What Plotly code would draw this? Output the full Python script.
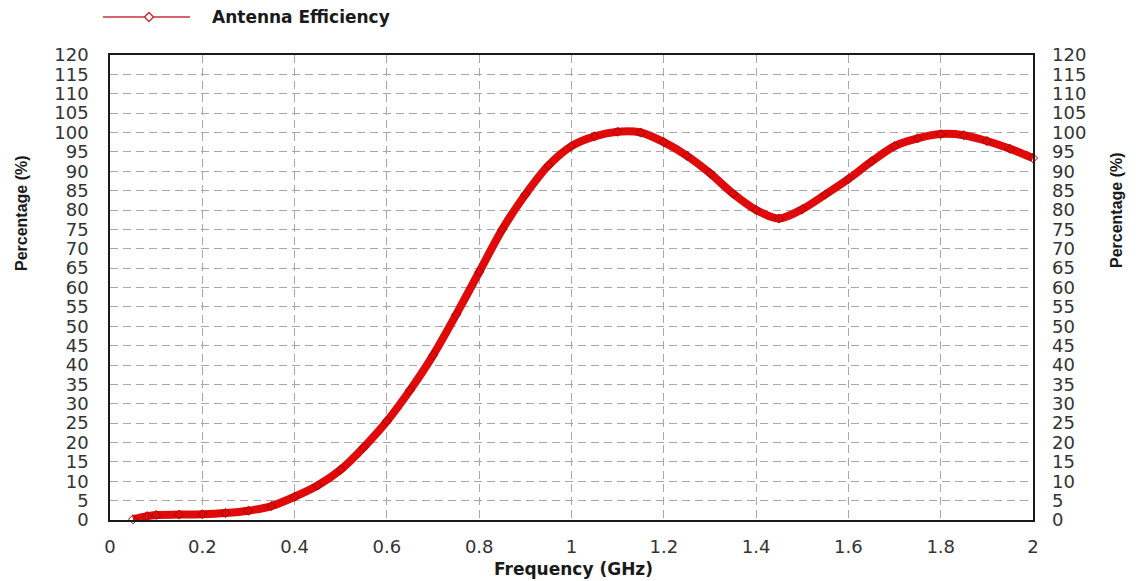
import plotly.graph_objects as go

# Data
freq_ghz = [0.05, 0.08, 0.1, 0.15, 0.2, 0.25, 0.3, 0.35, 0.4, 0.45, 0.5, 0.55, 0.6, 0.65,
            0.7, 0.75, 0.8, 0.85, 0.9, 0.95, 1.0, 1.05, 1.1, 1.15, 1.2, 1.25, 1.3, 1.35,
            1.4, 1.45, 1.5, 1.55, 1.6, 1.65, 1.7, 1.75, 1.8, 1.85, 1.9, 1.95, 2.0]
efficiency = [0.2, 1.0, 1.3, 1.4, 1.5, 1.8, 2.4, 3.6, 6.0, 8.9, 13.0, 18.8, 25.5, 33.5,
              42.5, 53.0, 64.0, 75.0, 84.0, 91.5, 96.5, 99.0, 100.2, 100.0, 97.5, 94.0, 89.5, 84.2,
              80.0, 77.8, 80.2, 84.0, 88.0, 92.5, 96.5, 98.5, 99.6, 99.3, 97.8, 95.8, 93.4]
series_name = "Antenna Efficiency"
x_ticks = [0, 0.2, 0.4, 0.6, 0.8, 1, 1.2, 1.4, 1.6, 1.8, 2]
x_tick_text = ["0", "0.2", "0.4", "0.6", "0.8", "1", "1.2", "1.4", "1.6", "1.8", "2"]
y_ticks = list(range(0, 121, 5))

W, H = 1140, 581
L, R, T, B = 110, 107, 55, 61
pw = W - L - R
ph = H - T - B

wide_font = "DejaVu Sans, Verdana, sans-serif"
tick_font = dict(family=wide_font, size=18, color="#333333")

fig = go.Figure()
fig.add_trace(go.Scatter(
    x=freq_ghz, y=efficiency, mode="lines+markers", name=series_name,
    line=dict(color="#e10a0a", width=8, shape="spline", smoothing=0.8),
    marker=dict(symbol="diamond-open", size=7, color="#a00000", line=dict(width=1)),
    showlegend=False, cliponaxis=False,
))
# Same series attached to the right axis (invisible) so the right scale renders
fig.add_trace(go.Scatter(
    x=freq_ghz, y=efficiency, yaxis="y2", mode="lines",
    line=dict(width=0, color="rgba(0,0,0,0)"), hoverinfo="skip", showlegend=False,
))

axis_common = dict(showline=True, linecolor="#1a1a1a", linewidth=1.5, mirror=True,
                   zeroline=False, ticks="", tickfont=tick_font)

fig.update_layout(
    width=W, height=H,
    margin=dict(l=L, r=R, t=T, b=B, pad=0),
    paper_bgcolor="white", plot_bgcolor="white",
    showlegend=False,
    xaxis=dict(range=[0, 2], tickvals=x_ticks, ticktext=x_tick_text,
               showgrid=True, gridcolor="#a8a8a8", griddash="8px,5px", gridwidth=1,
               ticklabelstandoff=10, **axis_common),
    yaxis=dict(range=[0, 120], tickvals=y_ticks,
               showgrid=True, gridcolor="#a8a8a8", griddash="8px,5px", gridwidth=1,
               ticklabelstandoff=16, **axis_common),
    yaxis2=dict(range=[0, 120], tickvals=y_ticks, overlaying="y", side="right",
                showgrid=False, showline=False, zeroline=False, ticks="",
                tickfont=tick_font, ticklabelstandoff=18),
)

def px_x(p):
    return (p - L) / pw

def px_y(p):
    return 1 - (p - T) / ph

# Axis titles
vtitle_font = dict(family="Arial, Liberation Sans, sans-serif", size=16, color="#1a1a1a")
htitle_font = dict(family=wide_font, size=17, color="#1a1a1a")
fig.add_annotation(text="<b>Percentage (%)</b>", xref="paper", yref="paper",
                   x=px_x(21), y=px_y(213), showarrow=False, textangle=-90,
                   font=vtitle_font, xanchor="center", yanchor="middle")
fig.add_annotation(text="<b>Percentage (%)</b>", xref="paper", yref="paper",
                   x=px_x(1117), y=px_y(210), showarrow=False, textangle=-90,
                   font=vtitle_font, xanchor="center", yanchor="middle")
fig.add_annotation(text="<b>Frequency (GHz)</b>", xref="paper", yref="paper",
                   x=px_x(573), y=px_y(569), showarrow=False,
                   font=htitle_font, xanchor="center", yanchor="middle")

# Legend (drawn manually to match the long sample line)
fig.add_shape(type="line", xref="paper", yref="paper",
              x0=px_x(103), x1=px_x(190), y0=px_y(17), y1=px_y(17),
              line=dict(color="#c8323c", width=1.5))
cx, cy, d = 149, 17, 4.5
fig.add_shape(type="path", xref="paper", yref="paper",
              path=f"M {px_x(cx)} {px_y(cy-d)} L {px_x(cx+d)} {px_y(cy)} L {px_x(cx)} {px_y(cy+d)} L {px_x(cx-d)} {px_y(cy)} Z",
              line=dict(color="#c8323c", width=1.5), fillcolor="white")
fig.add_annotation(text=f"<b>{series_name}</b>", xref="paper", yref="paper",
                   x=px_x(210), y=px_y(17), showarrow=False,
                   font=htitle_font, xanchor="left", yanchor="middle")

fig.write_html("out.html")
